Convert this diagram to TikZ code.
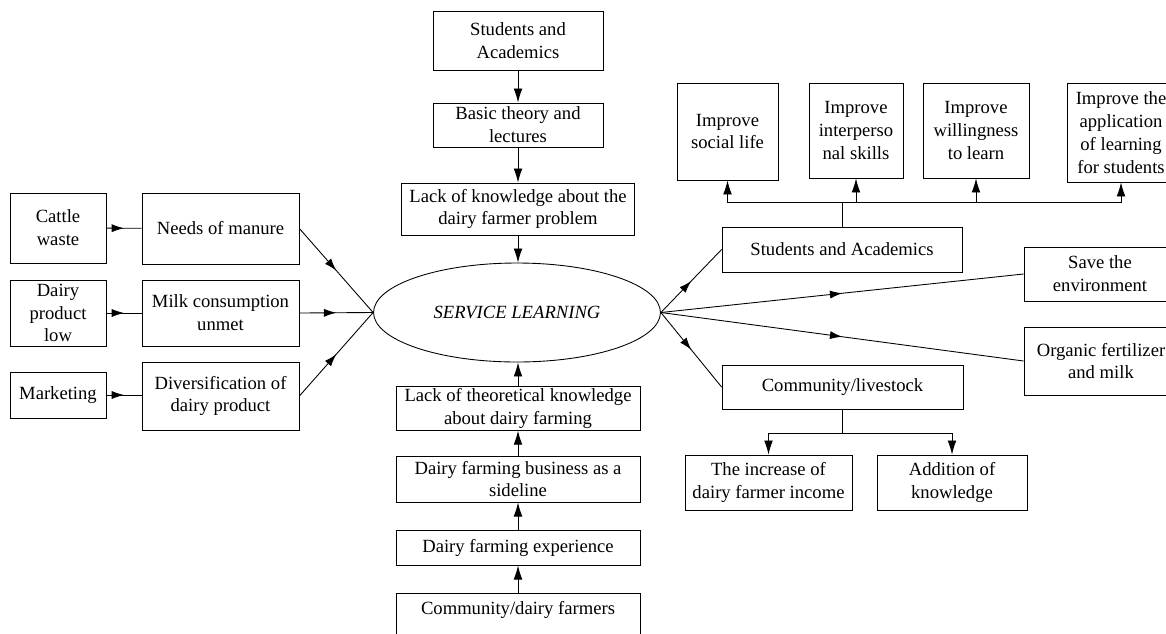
\documentclass[tikz,border=0pt]{standalone}
\usepackage{fontspec}
\setmainfont{Liberation Serif}
\usetikzlibrary{arrows.meta,shapes.geometric,decorations.markings}

\begin{document}
\begin{tikzpicture}[
    x=0.02cm, y=-0.02cm,
    box/.style={draw, line width=0.5pt, inner sep=1pt, align=center, font=\fontsize{10.6}{13}\selectfont},
    midarr/.style={postaction={decorate}, decoration={markings,
        mark=at position 0.5 with {\arrow{Latex[length=7pt,width=4.6pt]}}}},
    >={Latex[length=8pt,width=5pt]}, line width=0.5pt
]
    \useasboundingbox (0,0) rectangle (1166,633);

    % Centre
    \node[draw, ellipse, minimum width=5.74cm, minimum height=1.98cm, inner sep=0pt,
          font=\fontsize{10.6}{13}\selectfont\itshape] (sl) at (517,312.5) {SERVICE LEARNING};

    % Left side
    \node[box, minimum width=1.92cm, minimum height=1.4cm] (cattle) at (58,228) {Cattle\\waste};
    \node[box, minimum width=3.14cm, minimum height=1.42cm] (manure) at (220.5,228.5) {Needs of manure};
    \node[box, minimum width=1.92cm, minimum height=1.32cm] (low) at (58,313) {Dairy\\product\\low};
    \node[box, minimum width=3.14cm, minimum height=1.32cm] (milk) at (220.5,313) {Milk consumption\\unmet};
    \node[box, minimum width=1.92cm, minimum height=0.92cm] (market) at (58,395) {Marketing};
    \node[box, minimum width=3.14cm, minimum height=1.36cm] (divers) at (220.5,396) {Diversification of\\dairy product};

    % Top column
    \node[box, minimum width=3.4cm, minimum height=1.18cm] (acadtop) at (518,40.5) {Students and\\Academics};
    \node[box, minimum width=3.4cm, minimum height=0.88cm] (theory) at (518,125) {Basic theory and\\lectures};
    \node[box, minimum width=4.66cm, minimum height=1.04cm] (lackprob) at (518,209) {Lack of knowledge about the\\dairy farmer problem};

    % Bottom column
    \node[box, minimum width=4.88cm, minimum height=0.86cm] (lacktheo) at (518,408.5) {Lack of theoretical knowledge\\about dairy farming};
    \node[box, minimum width=4.88cm, minimum height=0.92cm] (sideline) at (518,479) {Dairy farming business as a\\sideline};
    \node[box, minimum width=4.88cm, minimum height=0.7cm] (exper) at (518,547.5) {Dairy farming experience};
    \node[box, minimum width=4.88cm, minimum height=0.88cm, text depth=8pt] (farmers) at (518,615) {Community/dairy farmers};

    % Right side
    \node[box, minimum width=4.8cm, minimum height=0.9cm] (acad) at (842,249.5) {Students and Academics};
    \node[box, minimum width=2.02cm, minimum height=1.94cm] (social) at (727.5,131.5) {Improve\\social life};
    \node[box, minimum width=1.88cm, minimum height=1.9cm] (inter) at (856,130.5) {Improve\\interperso\\nal skills};
    \node[box, minimum width=2.12cm, minimum height=1.9cm] (willing) at (976,130.5) {Improve\\willingness\\to learn};
    \node[box, minimum width=2.16cm, minimum height=1.98cm] (apply) at (1121,132.5) {Improve the\\application\\of learning\\for students};
    \node[box, minimum width=3.04cm, minimum height=1.08cm] (environ) at (1100,274) {Save the\\environment};
    \node[box, minimum width=3.08cm, minimum height=1.36cm] (organic) at (1101,361) {Organic fertilizer\\and milk};
    \node[box, minimum width=4.82cm, minimum height=0.88cm] (livestock) at (842.5,387) {Community/livestock};
    \node[box, minimum width=3.34cm, minimum height=1.1cm] (income) at (768.5,482.5) {The increase of\\dairy farmer income};
    \node[box, minimum width=3.0cm, minimum height=1.1cm] (addknow) at (952,482.5) {Addition of\\knowledge};

    % Junctions
    \coordinate (bus) at (842,202);
    \coordinate (split) at (842.5,433);

    % Edges, left
    \draw[midarr] (cattle) -- (manure);
    \draw[midarr] (low) -- (milk);
    \draw[midarr] (market) -- (market -| divers.west);
    \draw[midarr] (manure.east) -- (sl.west);
    \draw[midarr] (milk.east) -- (sl.west);
    \draw[midarr] (divers.east) -- (sl.west);

    % Edges, top and bottom
    \draw[->] (acadtop) -- (theory);
    \draw[->] (theory) -- (lackprob);
    \draw[->] (lackprob.south) -- (lackprob.south |- sl.north);
    \draw[->] (lacktheo.north) -- (lacktheo.north |- sl.south);
    \draw[->] (sideline) -- (lacktheo);
    \draw[->] (exper) -- (sideline);
    \draw[->] (farmers) -- (exper);

    % Edges, right
    \draw[midarr] (sl.east) -- (acad.west);
    \draw[midarr] (sl.east) -- (environ.west);
    \draw[midarr] (sl.east) -- (organic.west);
    \draw[midarr] (sl.east) -- (livestock.west);
    \draw (acad) -- (bus);
    \draw[->] (bus) -| (social);
    \draw[->] (bus) -| (inter);
    \draw[->] (bus) -| (willing);
    \draw[->] (bus) -| (apply);
    \draw (livestock) -- (split);
    \draw[->] (split) -| (income);
    \draw[->] (split) -| (addknow);
\end{tikzpicture}
\end{document}
